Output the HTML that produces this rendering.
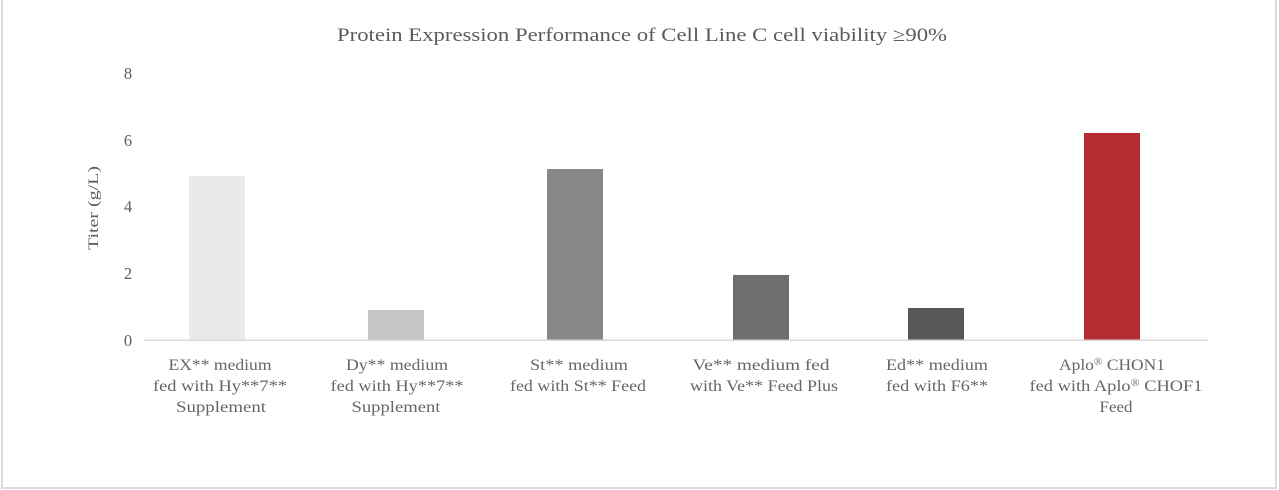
<!DOCTYPE html>
<html>
<head>
<meta charset="utf-8">
<style>
html,body{margin:0;padding:0;background:#fff;}
svg{display:block;}
text{font-family:"Liberation Serif",serif;}
</style>
</head>
<body>
<svg width="1279" height="490" viewBox="0 0 1279 490" xmlns="http://www.w3.org/2000/svg">
<rect x="0" y="0" width="1279" height="490" fill="#fff"/>
<!-- border -->
<rect x="1" y="0" width="2" height="489" fill="#dcdcdc"/>
<rect x="1" y="487" width="1276" height="2" fill="#dcdcdc"/>
<rect x="1275" y="0" width="2" height="489" fill="#dcdcdc"/>

<!-- title -->
<text x="642" y="41" font-size="19" fill="#5a5a5a" text-anchor="middle" textLength="610" lengthAdjust="spacingAndGlyphs">Protein Expression Performance of Cell Line C cell viability ≥90%</text>

<!-- y tick labels -->
<g font-size="16.5" fill="#5f5f5f" text-anchor="middle">
<text x="128" y="79">8</text>
<text x="128" y="146">6</text>
<text x="128" y="212">4</text>
<text x="128" y="279">2</text>
<text x="128" y="346">0</text>
</g>

<!-- y axis title -->
<text transform="translate(98,208) rotate(-90)" font-size="15" fill="#5f5f5f" text-anchor="middle" textLength="84" lengthAdjust="spacingAndGlyphs">Titer (g/L)</text>

<!-- bars -->
<rect x="189" y="176" width="56" height="164" fill="#e9eaeb"/>
<rect x="368" y="310" width="56" height="30" fill="#c6c7c8"/>
<rect x="547" y="169" width="56" height="171" fill="#87888a"/>
<rect x="733" y="275" width="56" height="65" fill="#6d6e70"/>
<rect x="908" y="308" width="56" height="32" fill="#58585a"/>
<rect x="1084" y="133" width="56" height="207" fill="#b52d33"/>

<!-- axis line -->
<rect x="144" y="339.5" width="1064" height="1.5" fill="#d9d9d9"/>

<!-- category labels -->
<g font-size="15.5" fill="#666" text-anchor="middle">
<text x="220" y="370" textLength="103" lengthAdjust="spacingAndGlyphs">EX** medium</text>
<text x="220" y="391" textLength="134" lengthAdjust="spacingAndGlyphs">fed with Hy**7**</text>
<text x="221" y="412" textLength="90" lengthAdjust="spacingAndGlyphs">Supplement</text>

<text x="397" y="370" textLength="102" lengthAdjust="spacingAndGlyphs">Dy** medium</text>
<text x="397" y="391" textLength="133" lengthAdjust="spacingAndGlyphs">fed with Hy**7**</text>
<text x="396" y="412" textLength="89" lengthAdjust="spacingAndGlyphs">Supplement</text>

<text x="579" y="370" textLength="98" lengthAdjust="spacingAndGlyphs">St** medium</text>
<text x="578" y="391" textLength="136" lengthAdjust="spacingAndGlyphs">fed with St** Feed</text>

<text x="761" y="370" textLength="137" lengthAdjust="spacingAndGlyphs">Ve** medium fed</text>
<text x="764" y="391" textLength="148" lengthAdjust="spacingAndGlyphs">with Ve** Feed Plus</text>

<text x="937" y="370" textLength="102" lengthAdjust="spacingAndGlyphs">Ed** medium</text>
<text x="937" y="391" textLength="102" lengthAdjust="spacingAndGlyphs">fed with F6**</text>

<text x="1112" y="370" textLength="106" lengthAdjust="spacingAndGlyphs">Aplo<tspan font-size="10" dy="-5">®</tspan><tspan dy="5"> CHON1</tspan></text>
<text x="1116" y="391" textLength="173" lengthAdjust="spacingAndGlyphs">fed with Aplo<tspan font-size="10" dy="-5">®</tspan><tspan dy="5"> CHOF1</tspan></text>
<text x="1116" y="412" textLength="33" lengthAdjust="spacingAndGlyphs">Feed</text>
</g>
</svg>
</body>
</html>
